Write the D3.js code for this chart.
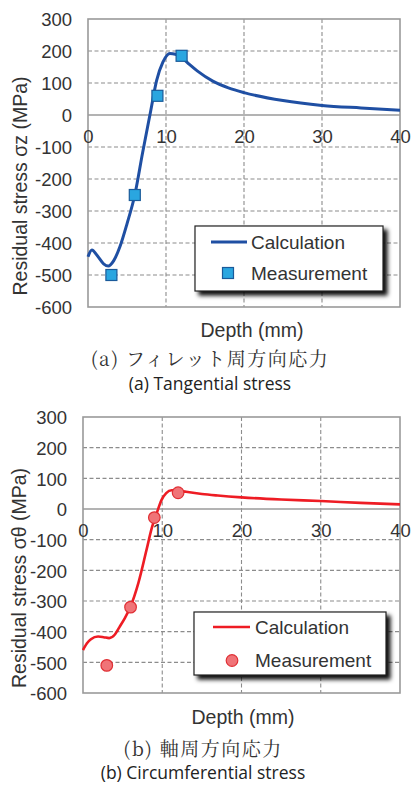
<!DOCTYPE html>
<html>
<head>
<meta charset="utf-8">
<script src="https://cdn.jsdelivr.net/npm/d3@7"></script>
<style>
  html, body { margin: 0; padding: 0; background: #fff; }
  svg { display: block; }
</style>
</head>
<body>
<div id="chart"></div>
<script>
// ---------- data ----------
const xTicks = [0, 10, 20, 30, 40];
const yTicks = [300, 200, 100, 0, -100, -200, -300, -400, -500, -600];

// (a) Tangential stress
const calcDepthA = [0, 0.5, 1.2, 2.0, 2.6, 3.3, 4.1, 5.0, 6.0, 7.0, 8.0, 8.8, 9.6, 10.5, 11.2, 12, 13, 14, 16, 18, 20, 25, 30, 35, 40];
const calcStressA = [-443, -422, -440, -465, -472, -455, -411, -340, -250, -118, 8, 108, 165, 192, 190, 180, 158, 138, 106, 85, 70, 45, 30, 22, 15];
const measDepthA = [3.0, 6.0, 8.9, 12.0];
const measStressA = [-500, -250, 60, 185];

// (b) Circumferential stress
const calcDepthB = [0, 0.5, 1.0, 1.9, 2.6, 3.3, 4.0, 4.6, 5.3, 6.0, 7.0, 8.0, 8.7, 9.3, 9.9, 10.5, 11.2, 12, 13, 15, 17, 20, 25, 30, 35, 40];
const calcStressB = [-460, -438, -425, -416, -418, -421, -410, -385, -355, -318, -240, -135, -60, -14, 29, 52, 61, 60, 56, 49, 44, 38, 31, 26, 20, 15];
const measDepthB = [3.0, 6.0, 9.0, 12.0];
const measStressB = [-510, -320, -28, 53];

const legendLabels = ["Calculation", "Measurement"];

// ---------- drawing ----------
const W = 411, H = 785;
const svg = d3.select("#chart").append("svg").attr("width", W).attr("height", H);

const defs = svg.append("defs");
const f = defs.append("filter").attr("id", "shadow").attr("x", "-10%").attr("y", "-20%").attr("width", "130%").attr("height", "160%");
f.append("feDropShadow").attr("dx", 4).attr("dy", 4).attr("stdDeviation", 2).attr("flood-color", "#000").attr("flood-opacity", 0.95);

const FONT = "'Liberation Sans', Arial, sans-serif";
const TXT = "#333";
const fmt = d => String(d);

function panel(o) {
  const x = d3.scaleLinear().domain([0, 40]).range([o.left, o.right]);
  const y = d3.scaleLinear().domain([-600, 300]).range([o.bottom, o.top]);
  const g = svg.append("g");

  // dashed grid
  g.append("g").selectAll("line.v").data(xTicks.filter(d => d > 0 && d < 40)).join("line")
    .attr("x1", d => x(d)).attr("x2", d => x(d)).attr("y1", o.top).attr("y2", o.bottom)
    .attr("stroke", "#8c8c8c").attr("stroke-width", 1.1).attr("stroke-dasharray", "4,2.5");
  g.append("g").selectAll("line.h").data(yTicks.filter(d => d !== 0 && d !== 300 && d !== -600)).join("line")
    .attr("x1", o.left).attr("x2", o.right).attr("y1", d => y(d)).attr("y2", d => y(d))
    .attr("stroke", "#8c8c8c").attr("stroke-width", 1.1).attr("stroke-dasharray", "4,2.5");

  // zero line + border
  g.append("line").attr("x1", o.left).attr("x2", o.right).attr("y1", y(0)).attr("y2", y(0))
    .attr("stroke", "#9a9a9a").attr("stroke-width", 1.6);
  g.append("rect").attr("x", o.left).attr("y", o.top).attr("width", o.right - o.left).attr("height", o.bottom - o.top)
    .attr("fill", "none").attr("stroke", "#9a9a9a").attr("stroke-width", 1.6);

  // y axis labels
  const yAxis = d3.axisLeft(y).tickValues(yTicks).tickFormat(fmt).tickSize(0).tickPadding(0);
  const ya = g.append("g").attr("transform", `translate(${o.yLabelX},0)`).call(yAxis);
  ya.select(".domain").remove();
  ya.selectAll("text").attr("font-family", FONT).attr("font-size", 18.5).attr("fill", TXT).attr("dy", "0.36em");

  // x axis labels (placed under zero line)
  const xAxis = d3.axisBottom(x).tickValues(xTicks).tickFormat(fmt).tickSize(0).tickPadding(0);
  const xa = g.append("g").attr("transform", `translate(0,${y(0) + 28})`).call(xAxis);
  xa.select(".domain").remove();
  xa.selectAll("text").attr("font-family", FONT).attr("font-size", 18.5).attr("fill", TXT).attr("dy", 0);

  // y title
  g.append("text").attr("transform", `translate(${o.titleX},${o.titleY}) rotate(-90)`)
    .attr("text-anchor", "middle").attr("font-family", FONT).attr("font-size", 19.5).attr("fill", TXT)
    .text(o.yTitle);

  // x title
  g.append("text").attr("x", o.xTitleX).attr("y", o.xTitleY).attr("text-anchor", "middle")
    .attr("font-family", FONT).attr("font-size", 19.5).attr("fill", TXT).text("Depth (mm)");

  // curve
  const pts = o.cx.map((d, i) => [d, o.cy[i]]);
  const line = d3.line().x(d => x(d[0])).y(d => y(d[1])).curve(d3.curveMonotoneX);
  g.append("path").attr("d", line(pts)).attr("fill", "none").attr("stroke", o.lineColor)
    .attr("stroke-width", o.lineWidth).attr("stroke-linejoin", "round");

  // markers
  const mp = o.mx.map((d, i) => [d, o.my[i]]);
  if (o.marker === "square") {
    g.append("g").selectAll("rect").data(mp).join("rect")
      .attr("x", d => x(d[0]) - 5.5).attr("y", d => y(d[1]) - 5.5).attr("width", 11).attr("height", 11)
      .attr("fill", o.markFill).attr("stroke", o.markStroke).attr("stroke-width", 1.2);
  } else {
    g.append("g").selectAll("circle").data(mp).join("circle")
      .attr("cx", d => x(d[0])).attr("cy", d => y(d[1])).attr("r", 5.8)
      .attr("fill", o.markFill).attr("stroke", o.markStroke).attr("stroke-width", 1.2);
  }

  // legend
  const L = o.legend;
  g.append("rect").attr("x", L.x).attr("y", L.y).attr("width", L.w).attr("height", L.h)
    .attr("fill", "#fff").attr("stroke", "#222").attr("stroke-width", 1.2).attr("filter", "url(#shadow)");
  g.append("line").attr("x1", L.lineX1).attr("x2", L.lineX2).attr("y1", L.row1).attr("y2", L.row1)
    .attr("stroke", o.lineColor).attr("stroke-width", o.lineWidth);
  g.append("text").attr("x", L.textX).attr("y", L.row1 + 6.5).attr("font-family", FONT).attr("font-size", 19)
    .attr("fill", TXT).text(legendLabels[0]);
  if (o.marker === "square") {
    g.append("rect").attr("x", L.markX - 5.5).attr("y", L.row2 - 5.5).attr("width", 11).attr("height", 11)
      .attr("fill", o.markFill).attr("stroke", o.markStroke).attr("stroke-width", 1.2);
  } else {
    g.append("circle").attr("cx", L.markX).attr("cy", L.row2).attr("r", 5.8)
      .attr("fill", o.markFill).attr("stroke", o.markStroke).attr("stroke-width", 1.2);
  }
  g.append("text").attr("x", L.textX).attr("y", L.row2 + 6.5).attr("font-family", FONT).attr("font-size", 19)
    .attr("fill", TXT).text(legendLabels[1]);

  // captions
  g.append("text").attr("x", o.capX).attr("y", o.capJpY).attr("text-anchor", "middle")
    .attr("font-family", "'Noto Serif CJK JP', 'Noto Sans CJK JP', serif").attr("font-weight", 400)
    .attr("font-size", 19).attr("letter-spacing", 1.5).attr("fill", "#333").text(o.capJp);
  g.append("text").attr("x", o.capX).attr("y", o.capEnY).attr("text-anchor", "middle")
    .attr("font-family", "'Open Sans', sans-serif").attr("font-size", o.capEnSize).attr("fill", "#222").text(o.capEn);
}

panel({
  left: 88, right: 400, top: 19, bottom: 307,
  yLabelX: 72, titleX: 27, titleY: 186,
  yTitle: "Residual stress σz (MPa)",
  xTitleX: 252, xTitleY: 337,
  cx: calcDepthA, cy: calcStressA, mx: measDepthA, my: measStressA,
  lineColor: "#1f4fa3", lineWidth: 3, marker: "square", markFill: "#2aa6e0", markStroke: "#1a5a9a",
  legend: { x: 195, y: 226, w: 188, h: 65, lineX1: 211, lineX2: 247, row1: 242, row2: 273, markX: 228, textX: 251 },
  capX: 210, capJpY: 366, capEnY: 390, capEnSize: 17.5,
  capJp: "(a) フィレット周方向応力", capEn: "(a) Tangential stress"
});

panel({
  left: 83, right: 400, top: 417, bottom: 693,
  yLabelX: 67, titleX: 26, titleY: 578,
  yTitle: "Residual stress σθ (MPa)",
  xTitleX: 243, xTitleY: 724,
  cx: calcDepthB, cy: calcStressB, mx: measDepthB, my: measStressB,
  lineColor: "#ee1c24", lineWidth: 2.6, marker: "circle", markFill: "#f07478", markStroke: "#e03035",
  legend: { x: 194, y: 612, w: 192, h: 63, lineX1: 213, lineX2: 250, row1: 627, row2: 660.5, markX: 232, textX: 255 },
  capX: 203, capJpY: 756, capEnY: 779, capEnSize: 17.5,
  capJp: "(b) 軸周方向応力", capEn: "(b) Circumferential stress"
});
</script>
</body>
</html>
